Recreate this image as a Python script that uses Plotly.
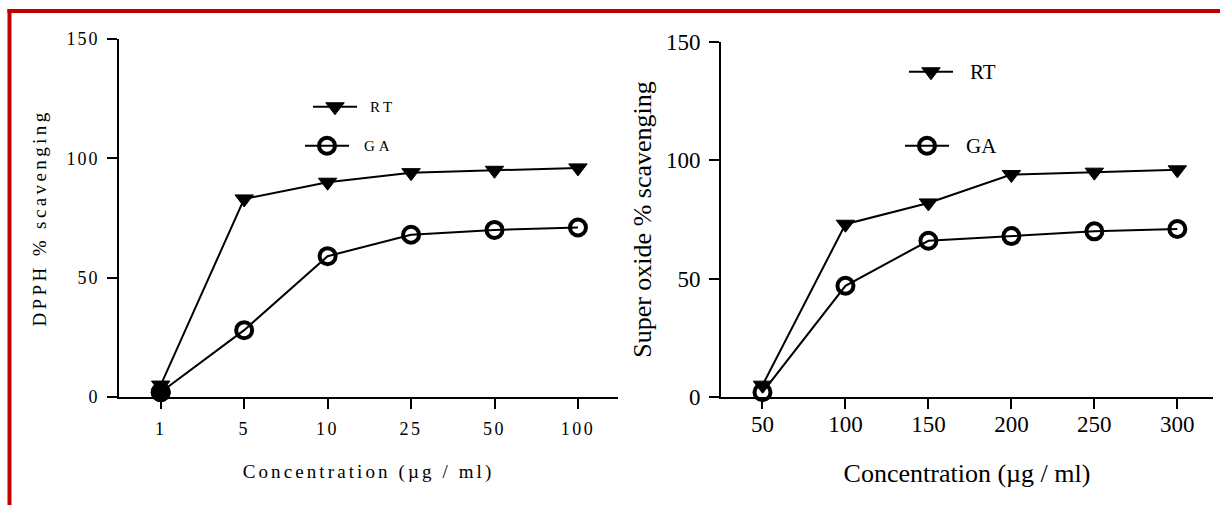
import plotly.graph_objects as go

# ---------------- data ----------------
dpph_conc = ["1", "5", "10", "25", "50", "100"]
dpph_rt = [5, 83, 90, 94, 95, 96]
dpph_ga = [2, 28, 59, 68, 70, 71]

so_conc = ["50", "100", "150", "200", "250", "300"]
so_rt = [5, 73, 82, 94, 95, 96]
so_ga = [2, 47, 66, 68, 70, 71]

series_names = ["RT", "GA"]
y_ticks = [0, 50, 100, 150]

SERIF = "Liberation Serif, Times New Roman, serif"
BLACK = "black"
RED = "#C00000"

fig = go.Figure()

# ---------------- left chart (DPPH) ----------------
fig.add_trace(go.Scatter(
    x=dpph_conc, y=dpph_rt, name="", mode="lines+markers",
    line=dict(color=BLACK, width=2),
    marker=dict(symbol="triangle-down", size=16, color=BLACK, line=dict(color=BLACK, width=1)),
    xaxis="x", yaxis="y", legend="legend", cliponaxis=False))
fig.add_trace(go.Scatter(
    x=dpph_conc, y=dpph_ga, name="", mode="lines+markers",
    line=dict(color=BLACK, width=2),
    marker=dict(symbol="circle-open", size=16, color=BLACK, line=dict(color=BLACK, width=4)),
    xaxis="x", yaxis="y", legend="legend2", cliponaxis=False))
# first GA point appears solid in the reference
fig.add_trace(go.Scatter(
    x=dpph_conc[:1], y=dpph_ga[:1], mode="markers", showlegend=False,
    marker=dict(symbol="circle", size=19, color=BLACK, line=dict(color=BLACK, width=1)),
    xaxis="x", yaxis="y", cliponaxis=False))

# ---------------- right chart (Super oxide) ----------------
fig.add_trace(go.Scatter(
    x=so_conc, y=so_rt, name="", mode="lines+markers",
    line=dict(color=BLACK, width=2),
    marker=dict(symbol="triangle-down", size=16, color=BLACK, line=dict(color=BLACK, width=1)),
    xaxis="x2", yaxis="y2", legend="legend3", cliponaxis=False))
fig.add_trace(go.Scatter(
    x=so_conc, y=so_ga, name="", mode="lines+markers",
    line=dict(color=BLACK, width=2),
    marker=dict(symbol="circle-open", size=16, color=BLACK, line=dict(color=BLACK, width=4)),
    xaxis="x2", yaxis="y2", legend="legend4", cliponaxis=False))

W, H = 1220, 505

def px(v):
    return v / W

def py(v):
    return (H - v) / H

axis_common = dict(
    showline=True, linecolor=BLACK, linewidth=2,
    ticks="outside", ticklen=10, tickwidth=2, tickcolor=BLACK,
    showgrid=False, zeroline=False, mirror=False, automargin=False,
)

left_tick_font = dict(family=SERIF, size=18, color=BLACK)
right_tick_font = dict(family=SERIF, size=23, color=BLACK)
left_title_font = dict(family=SERIF, size=19, color=BLACK)
right_title_font = dict(family=SERIF, size=26, color=BLACK)
left_leg_font = dict(family=SERIF, size=15, color=BLACK)
right_leg_font = dict(family=SERIF, size=21, color=BLACK)

def legend_box(x, y):
    return dict(x=px(x), y=py(y), xanchor="left", yanchor="middle",
                font=left_leg_font, bgcolor="rgba(0,0,0,0)", itemwidth=44)

# legend labels (placed beside the legend symbols)
label_specs = [
    (series_names[0], 372, 107, left_leg_font),
    (series_names[1], 366, 146, left_leg_font),
    (series_names[0], 968, 72, right_leg_font),
    (series_names[1], 964, 146, right_leg_font),
]
annotations = [
    dict(text=t, xref="paper", yref="paper", x=px(x), y=py(y), xanchor="left", yanchor="middle",
         showarrow=False, font=f)
    for t, x, y, f in label_specs
]

fig.update_layout(
    width=W, height=H,
    margin=dict(l=0, r=0, t=0, b=0, autoexpand=False),
    paper_bgcolor="white", plot_bgcolor="white",
    xaxis=dict(
        axis_common, type="category", categoryorder="array", categoryarray=dpph_conc,
        range=[-0.5, 5.48], domain=[px(119), px(618)], anchor="y",
        tickfont=left_tick_font, ticklabelstandoff=4,
        title=dict(text="Concentration (µg / ml)", font=left_title_font, standoff=27),
    ),
    yaxis=dict(
        axis_common, range=[0, 150], tickvals=y_ticks, domain=[py(397), py(39)], anchor="x",
        tickfont=left_tick_font, ticklabelstandoff=4,
        title=dict(text="DPPH % scavenging", font=left_title_font, standoff=21),
    ),
    xaxis2=dict(
        axis_common, type="category", categoryorder="array", categoryarray=so_conc,
        range=[-0.5, 5.43], domain=[px(721), px(1213)], anchor="y2",
        tickfont=right_tick_font, ticklabelstandoff=-5,
        title=dict(text="Concentration (µg / ml)", font=right_title_font, standoff=28),
    ),
    yaxis2=dict(
        axis_common, range=[0, 150], tickvals=y_ticks, domain=[py(397), py(42)], anchor="x2",
        tickfont=right_tick_font, ticklabelstandoff=4,
        title=dict(text="Super oxide % scavenging", font=right_title_font, standoff=7),
    ),
    legend=legend_box(308, 107),
    legend2=legend_box(300, 146),
    legend3=legend_box(904, 72),
    legend4=legend_box(900, 146),
    annotations=annotations,
    shapes=[
        dict(type="line", xref="paper", yref="paper", x0=px(7.5), x1=1, y0=py(11), y1=py(11),
             line=dict(color=RED, width=4)),
        dict(type="line", xref="paper", yref="paper", x0=px(9.5), x1=px(9.5), y0=0, y1=py(9),
             line=dict(color=RED, width=4)),
    ],
)

post = """
document.documentElement.style.margin = '0';
document.body.style.margin = '0';
document.body.style.overflow = 'hidden';
var gd = document.getElementById('{plot_id}');
function sp(sel, v) { gd.querySelectorAll(sel).forEach(function (t) { t.style.letterSpacing = v; }); }
function applySpacing() {
  sp('g.subplot.xy .xaxislayer-above text', '2.5px');
  sp('g.subplot.xy .yaxislayer-above text', '2px');
  sp('.g-xtitle text', '3.1px');
  sp('.g-ytitle text', '3.4px');
  sp('g.annotation[data-index="0"] text', '4px');
  sp('g.annotation[data-index="1"] text', '4px');
}
applySpacing();
gd.on('plotly_afterplot', applySpacing);
setTimeout(applySpacing, 50);
"""

fig.write_html("out.html", post_script=post, config={"displayModeBar": False})
